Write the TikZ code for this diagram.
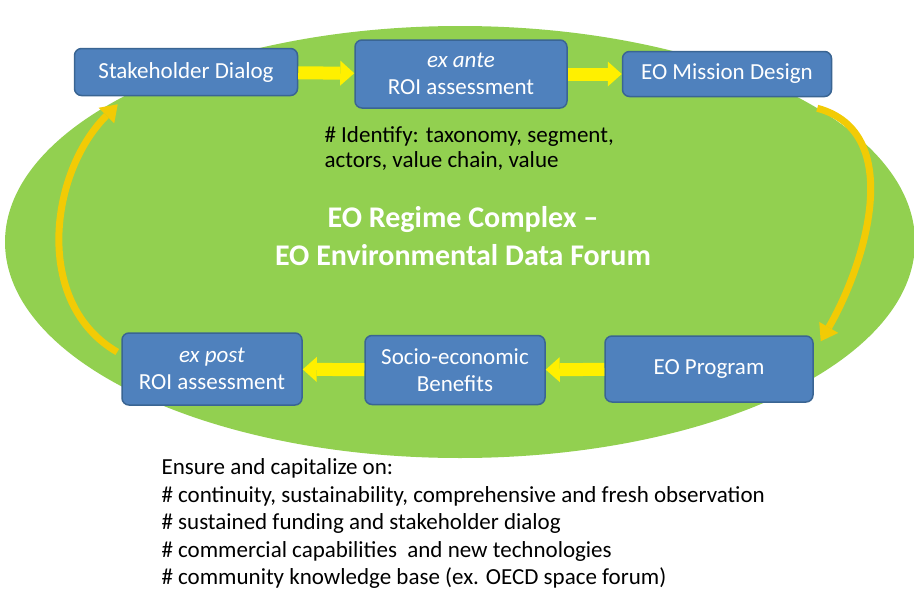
\documentclass[tikz,border=0pt]{standalone}
\usepackage{fontspec}
\setmainfont{Carlito}
\usepackage{xcolor}
\usetikzlibrary{arrows.meta,positioning}

\definecolor{ovalgreen}{HTML}{92D050}
\definecolor{boxblue}{HTML}{4F81BD}
\definecolor{boxline}{HTML}{3A6593}
\definecolor{flowyellow}{HTML}{FFF000}
\definecolor{loopgold}{HTML}{F2CB05}

\tikzset{
  stage/.style={rectangle,rounded corners=7pt,draw=boxline,line width=1.5pt,
    fill=boxblue,text=white,align=center,inner sep=0pt,
    font=\fontsize{23}{27}\selectfont},
  flow/.style={color=flowyellow,line width=13pt,
    -{Triangle[width=25pt,length=14pt,line width=0pt]}},
  backflow/.style={color=loopgold,line width=7pt,
    -{Triangle[width=22pt,length=16pt,line width=0pt]}}
}

\begin{document}
\begin{tikzpicture}[x=1pt,y=-1pt]
      \useasboundingbox (0,0) rectangle (914,592);
      \fill[white] (0,0) rectangle (914,592);
      \fill[ovalgreen] (460,242) ellipse [x radius=455,y radius=216];

      \node[stage,minimum width=223pt,minimum height=47pt] (SD) at (186,72)  {Stakeholder Dialog};
      \node[stage,minimum width=212pt,minimum height=68pt] (EA) at (461,74)  {\textit{ex ante}\\ROI assessment};
      \node[stage,minimum width=209pt,minimum height=45pt] (MD) at (727,74)  {EO Mission Design};
      \node[stage,minimum width=208pt,minimum height=66pt] (PR) at (709,369) {EO Program};
      \node[stage,minimum width=180pt,minimum height=69pt] (SB) at (455,370) {Socio-economic\\Benefits};
      \node[stage,minimum width=180pt,minimum height=72pt] (EP) at (212,369) {\textit{ex post}\\ROI assessment};

      \node[anchor=north west,align=left,font=\fontsize{23}{25}\selectfont] (ID) at (321,123)
        {\# Identify: taxonomy, segment,\\actors, value chain, value};
      \node[align=center,text=white,font=\fontsize{30}{38}\selectfont\bfseries] (RC) at (463,236)
        {EO Regime Complex --\\EO Environmental Data Forum};
      \node[anchor=north west,align=left,font=\fontsize{23}{27.5}\selectfont] (EN) at (158,455)
        {Ensure and capitalize on:\\
         \# continuity, sustainability, comprehensive and fresh observation\\
         \# sustained funding and stakeholder dialog\\
         \# commercial capabilities \ and new technologies\\
         \# community knowledge base (ex. OECD space forum)};

      \coordinate (r0) at ([xshift=-15pt,yshift=-11pt]MD.south east);
      \coordinate (r1) at ([xshift=7pt,yshift=-6pt]PR.north east);
      \coordinate (l0) at ([xshift=-4pt,yshift=17pt]EP.west);
      \coordinate (l1) at ([xshift=44pt,yshift=-8pt]SD.south west);

      \path[flow] (SD) edge (EA)
                  (EA) edge (MD)
                  (PR) edge (SB)
                  (SB) edge (EP);
      \path[backflow] (r0) edge [out=-15,in=60]  (r1)
                      (l0) edge [out=150,in=225] (l1);
\end{tikzpicture}
\end{document}
